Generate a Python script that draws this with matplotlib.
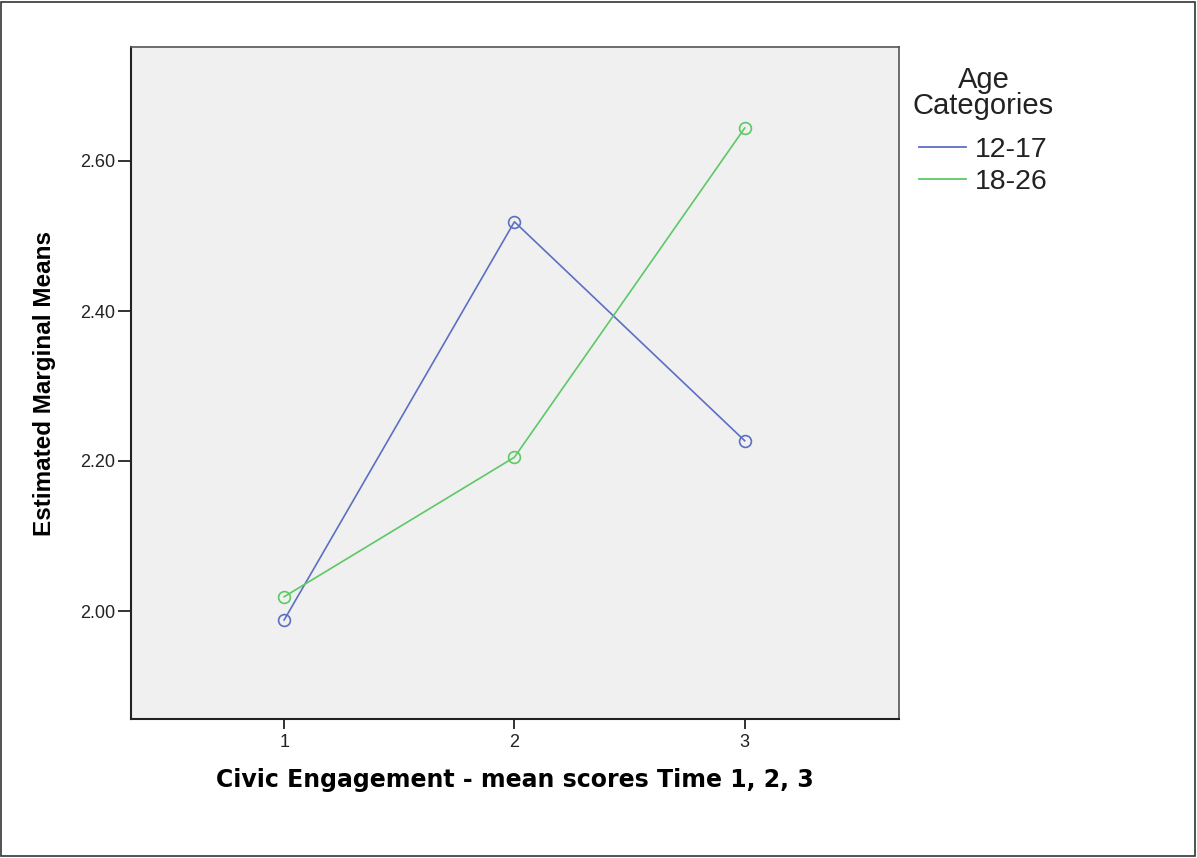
import matplotlib.pyplot as plt
import matplotlib.patches as patches
from matplotlib.lines import Line2D

# data
times = [1, 2, 3]
means_12_17 = [1.988, 2.519, 2.227]
means_18_26 = [2.019, 2.205, 2.644]
group_labels = ['12-17', '18-26']
yticks = [2.00, 2.20, 2.40, 2.60]

blue = '#5b6fc4'
green = '#5cc866'

plt.rcParams['font.family'] = ['Liberation Sans', 'DejaVu Sans']

fig = plt.figure(figsize=(11.97, 8.58), dpi=100)
ax = fig.add_axes([131 / 1197, 1 - 719 / 858, 768 / 1197, 672 / 858])
ax.set_facecolor('#f0f0f0')

ax.plot(times, means_12_17, color=blue, lw=1.2, marker='o', mfc='none',
        mec=blue, ms=8.5, mew=1.2)
ax.plot(times, means_18_26, color=green, lw=1.2, marker='o', mfc='none',
        mec=green, ms=8.5, mew=1.2)

ax.set_xlim(0.335, 3.67)
ax.set_ylim(1.856, 2.752)
ax.set_xticks(times)
ax.set_xticklabels([str(t) for t in times])
ax.set_yticks(yticks)
ax.set_yticklabels(['%.2f' % v for v in yticks])
ax.tick_params(labelsize=13, width=1.3, color='#222222', labelcolor='#222222', pad=2)
ax.tick_params(axis='y', length=9.5)
ax.tick_params(axis='x', length=7, pad=4)

for side in ['left', 'bottom']:
    ax.spines[side].set_color('#222222')
    ax.spines[side].set_linewidth(1.5)
for side in ['top', 'right']:
    ax.spines[side].set_color('#555555')
    ax.spines[side].set_linewidth(1.2)

ax.set_xlabel('Civic Engagement - mean scores Time 1, 2, 3', fontsize=17,
              fontweight='bold', family=['DejaVu Sans'], labelpad=12)
ax.set_ylabel('Estimated Marginal Means', fontsize=17.5, fontweight='bold',
              family=['Liberation Sans Narrow', 'Liberation Sans'], labelpad=17)

handles = [Line2D([], [], color=blue, lw=1.3),
           Line2D([], [], color=green, lw=1.3)]
leg = fig.legend(handles, group_labels, title='Age\nCategories', loc='upper left',
                 bbox_to_anchor=(913 / 1197, 1 - 66 / 858), frameon=False,
                 fontsize=20.5, title_fontsize=21, handlelength=1.65,
                 handletextpad=0.3, labelspacing=0.22, borderaxespad=0,
                 borderpad=0)
leg.get_title().set_multialignment('center')
leg.get_title().set_linespacing(0.92)
leg.get_title().set_color('#222222')
leg._legend_box.sep = 12
for t in leg.get_texts():
    t.set_color('#222222')

# outer frame
fig.patches.append(patches.Rectangle((0.001, 0.002), 0.997, 0.996,
                                     transform=fig.transFigure, fill=False,
                                     edgecolor='#333333', lw=1.2))

fig.savefig('out.png', dpi=100)
